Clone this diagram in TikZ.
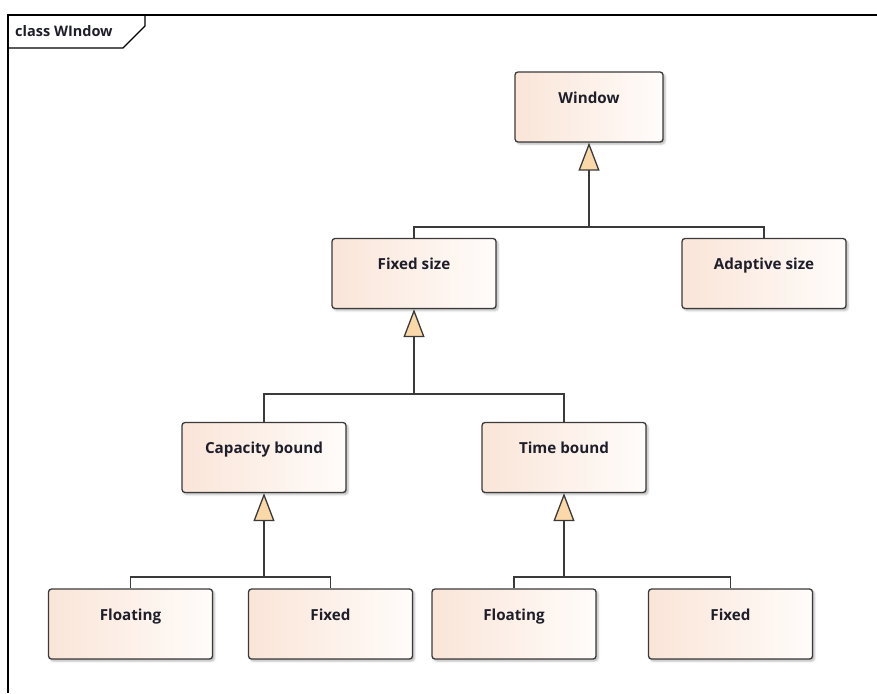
\documentclass[tikz,border=0pt]{standalone}
\usepackage{fontspec}
\setmainfont{Open Sans}
\usetikzlibrary{arrows.meta,shadows.blur}
\definecolor{boxl}{HTML}{FAE5D8}
\definecolor{boxr}{HTML}{FFFCFA}
\definecolor{edgec}{HTML}{3A3A3A}
\definecolor{tri}{HTML}{FAD8A8}
\definecolor{txtc}{HTML}{1E1E2A}
\begin{document}
\begin{tikzpicture}[x=1pt,y=-1pt,
  cls/.style={rectangle, rounded corners=3pt, draw=edgec, line width=1.3pt,
    left color=boxl, right color=boxr, minimum width=164pt, inner sep=0pt,
    text height=31pt, text depth=39pt, text=txtc,
    font=\bfseries\fontsize{15.2}{18}\selectfont,
    blur shadow={shadow xshift=2pt, shadow yshift=-2pt, shadow blur radius=2pt, shadow opacity=30}},
  gen/.style={draw=edgec, line width=1.3pt, -{Triangle[length=28pt,width=21pt,fill=tri]}},
  branch/.style={draw=edgec, line width=1.3pt},
  framel/.style={draw=black, line width=1.6pt}]
\useasboundingbox (0,0) rectangle (877,693);
% frame
\draw[framel] (877,15) -- (8,15) -- (8,693);
\draw[framel, line width=1.1pt] (145,15) -- (145,26) -- (123,48) -- (8,48);
\node[anchor=base west, inner sep=0pt, text=txtc, font=\bfseries\fontsize{14.5}{17}\selectfont] (ttl) at (15,37) {class WIndow};
% classes
\node[cls, minimum width=148pt] (win) at (589,107) {Window};
\node[cls] (fix) at (414,273.5) {Fixed size};
\node[cls] (ada) at (764,273.5) {Adaptive size};
\node[cls] (cap) at (264,457.5) {Capacity bound};
\node[cls] (tim) at (564,457.5) {Time bound};
\node[cls] (fl1) at (130.5,624) {Floating};
\node[cls] (fx1) at (330.5,624) {Fixed};
\node[cls] (fl2) at (514,624) {Floating};
\node[cls] (fx2) at (730.5,624) {Fixed};
% generalizations
\coordinate (j1) at (589,227);
\coordinate (j2) at (414,394);
\coordinate (j3) at (264,577);
\coordinate (j4) at (564,577);
\draw[branch] (fix.north) |- (j1) -| (ada.north);
\draw[gen] (j1) -- (win.south);
\draw[branch] (cap.north) |- (j2) -| (tim.north);
\draw[gen] (j2) -- (fix.south);
\draw[branch] (fl1.north) |- (j3) -| (fx1.north);
\draw[gen] (j3) -- (cap.south);
\draw[branch] (fl2.north) |- (j4) -| (fx2.north);
\draw[gen] (j4) -- (tim.south);
\end{tikzpicture}
\end{document}
